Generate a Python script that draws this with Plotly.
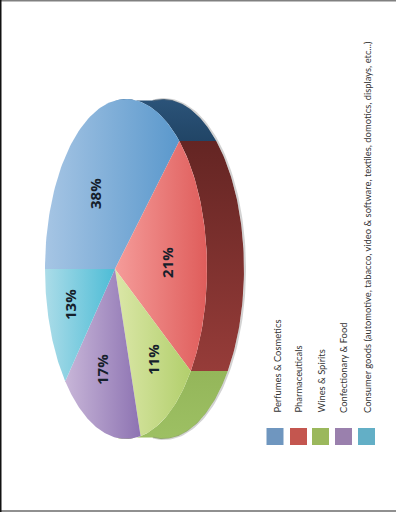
import numpy as np
import plotly.graph_objects as go

categories = ["Perfumes & Cosmetics", "Pharmaceuticals", "Wines & Spirits", "Confectionary & Food",
              "Consumer goods (automotive, tabacco, video & software, textiles, domotics, displays, etc...)"]
values = [38, 21, 11, 17, 13]
labels = ["38%", "21%", "11%", "17%", "13%"]
swatch_colors = ["#6f96bf", "#c4564f", "#9bb85c", "#9a80ad", "#63afc6"]
top_light = ["#a6c5e4", "#f59c9a", "#dbe7a8", "#c8b6d8", "#abdce8"]
top_dark = ["#5a98cc", "#df5d5b", "#b2cf6c", "#8d73b2", "#4dbcd6"]
side_a = ["#214566", "#963c39", "#9dc063", "#8d73b2", "#4dbcd6"]
side_b = ["#2b5379", "#642523", "#94b65a", "#8d73b2", "#4dbcd6"]
side_visible = [True, True, True, False, False]
label_x = [95, 167, 153, 102, 70]
label_y = [194, 263, 360, 370, 305]

# Pie geometry: a tilted disc seen in perspective
CX, CY, RX, RY, DEPTH, E, START = 126.0, 269.0, 81.0, 170.0, 37.0, -0.136, 180.0


def project(theta_deg, r=1.0):
    th = np.radians(theta_deg)
    u, v = r * np.cos(th), r * np.sin(th)
    w = 1 + E * u
    return CX + RX * (u + E) / w, CY - RY * np.sqrt(1 - E * E) * v / w


fig = go.Figure()
cum = np.cumsum([0] + values) / sum(values) * 360.0
edges = START - cum

# side wall
for i in range(len(values)):
    if not side_visible[i]:
        continue
    a, b = edges[i], edges[i + 1]
    if i == 0:
        a = 90.0
    if i == 2:
        b = -90.0
    th = np.linspace(a, b, 60)
    x, y = project(th)
    px = np.concatenate([x, (x + DEPTH)[::-1], x[:1]])
    py = np.concatenate([y, y[::-1], y[:1]])
    fig.add_trace(go.Scatter(
        x=px, y=py, mode="lines", line=dict(width=0), fill="toself", hoverinfo="skip",
        fillgradient=dict(type="vertical", colorscale=[[0, side_a[i]], [1, side_b[i]]]),
    ))

# soft outer shadow
th = np.linspace(90, -90, 120)
x, y = project(th)
fig.add_trace(go.Scatter(x=x + DEPTH + 1, y=y, mode="lines", hoverinfo="skip",
                         line=dict(color="rgba(130,130,130,0.35)", width=2)))

# top faces
ax, ay = project(0, 0)
for i in range(len(values)):
    th = np.linspace(edges[i], edges[i + 1], 80)
    x, y = project(th)
    fig.add_trace(go.Scatter(
        x=np.concatenate([[ax], x, [ax]]), y=np.concatenate([[ay], y, [ay]]),
        mode="lines", line=dict(width=0), fill="toself", hoverinfo="skip",
        fillgradient=dict(type="horizontal", colorscale=[[0, top_light[i]], [1, top_dark[i]]]),
    ))

annotations = []
for lx, ly, lab in zip(label_x, label_y, labels):
    annotations.append(dict(x=lx, y=ly, text=f"<b>{lab}</b>", showarrow=False, textangle=-90,
                            font=dict(family="Open Sans", size=15, color="#15202b")))

# legend
legend_x = [275, 298.5, 320.5, 343.5, 366.5]
legend_text_x = [277, 298, 321, 343, 367]
fig.add_trace(go.Scatter(x=legend_x, y=[436.5] * 5, mode="markers", hoverinfo="skip",
                         marker=dict(symbol="square", size=17, color=swatch_colors)))
for tx, c in zip(legend_text_x, categories):
    annotations.append(dict(x=tx, y=415, text=c, showarrow=False, textangle=-90, yanchor="bottom",
                            font=dict(family="Lato", size=9.4, color="#333333")))

fig.update_layout(
    width=396, height=512, margin=dict(l=0, r=0, t=0, b=0), showlegend=False,
    paper_bgcolor="white", plot_bgcolor="white", annotations=annotations,
    xaxis=dict(range=[0, 396], visible=False, fixedrange=True),
    yaxis=dict(range=[512, 0], visible=False, fixedrange=True),
    shapes=[
        dict(type="line", xref="paper", yref="paper", x0=0, x1=1, y0=1, y1=1, line=dict(color="#808080", width=3)),
        dict(type="line", xref="paper", yref="paper", x0=0, x1=1, y0=0.002, y1=0.002, line=dict(color="#909090", width=2)),
        dict(type="line", xref="paper", yref="paper", x0=0, x1=0, y0=0, y1=1, line=dict(color="#111111", width=3)),
    ],
)
fig.write_html("out.html", config=dict(displayModeBar=False),
               post_script="document.body.style.margin='0';")
